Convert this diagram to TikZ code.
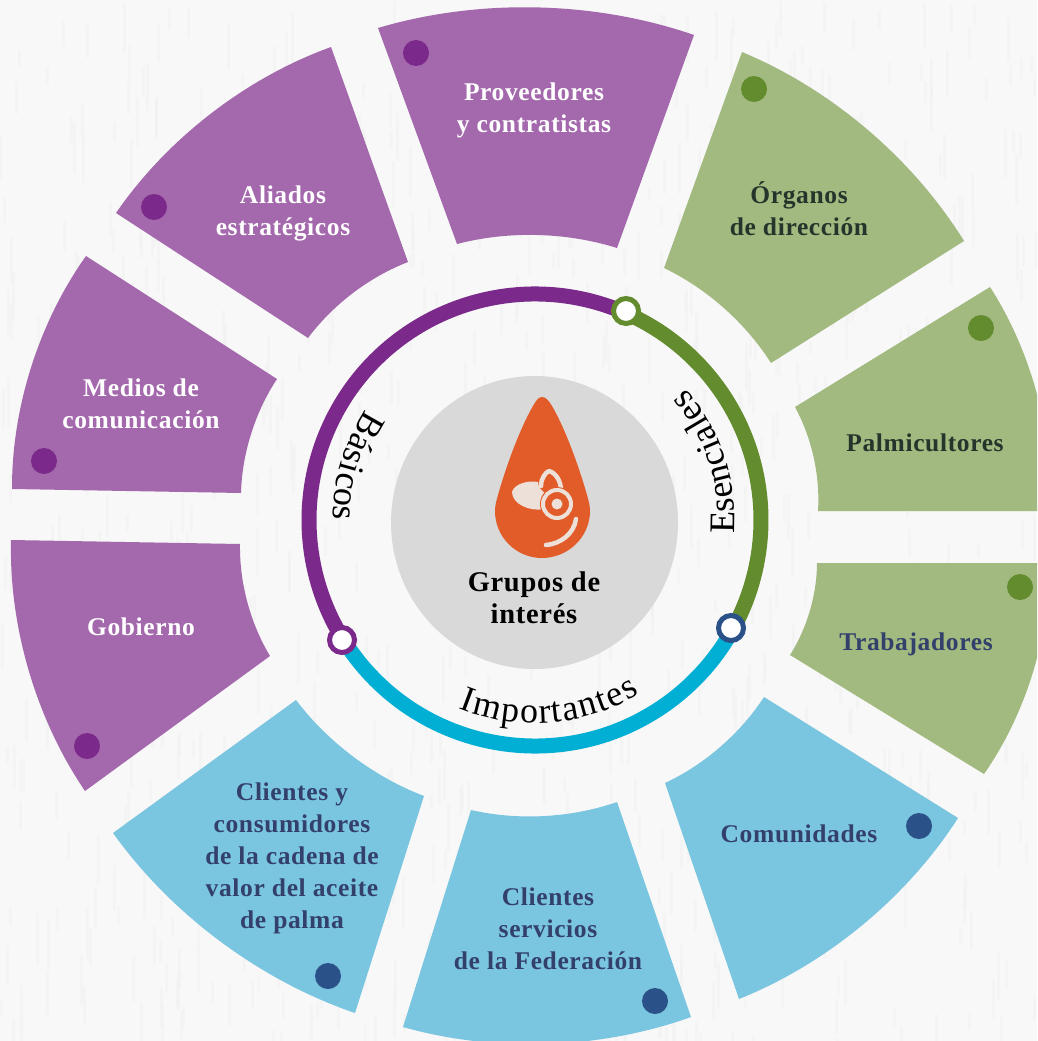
\documentclass[tikz,border=0pt]{standalone}
\usepackage{fontspec}
\setmainfont{Liberation Serif}[LetterSpace=2.5]
\newfontfamily\ringfont{Liberation Serif}
\usetikzlibrary{decorations.text}
\definecolor{bgc}{HTML}{F8F8F8}
\definecolor{grain}{HTML}{F1F1F1}
\definecolor{pf}{HTML}{A468AD}
\definecolor{gf}{HTML}{A2BA80}
\definecolor{bf}{HTML}{7AC5DF}
\definecolor{pd}{HTML}{7B2A8B}
\definecolor{gd}{HTML}{638C2E}
\definecolor{cd}{HTML}{00AFD3}
\definecolor{nd}{HTML}{2B5288}
\definecolor{ntx}{HTML}{33406B}
\definecolor{gtx}{HTML}{26352B}
\definecolor{drop}{HTML}{E25C2A}
\definecolor{lite}{HTML}{EDE0D8}
\tikzset{
  x=1pt,y=-1pt,
  lab/.style={font=\fontsize{25.5}{32}\selectfont\bfseries,align=center,inner sep=0pt},
  dot/.style={circle,minimum size=26pt,inner sep=0pt},
  junction/.style={circle,fill=white,line width=5pt,minimum size=25pt,inner sep=0pt},
  outer/.style={bend left=17.8,looseness=.85},
  inner/.style={bend right=16,looseness=.85},
  ringarc/.style={line width=15pt},
  ringlab/.style={decorate,decoration={text along path,raise=0pt,text align={fit to path},
     text={|\fontsize{36}{36}\selectfont\ringfont|#1}}}
}
\newcommand{\seg}[5]{\fill[#1] #2 to[outer] #3 -- #4 to[inner] #5 -- cycle;}
\begin{document}
\begin{tikzpicture}
\useasboundingbox (0,0) rectangle (1037,1041);
\clip (0,0) rectangle (1037,1041);
\fill[bgc] (0,0) rectangle (1037,1041);
% paper grain
\pgfmathsetseed{7}
\foreach \i in {1,...,900}{
  \pgfmathsetmacro{\gx}{rnd*1037}
  \pgfmathsetmacro{\gy}{rnd*1041}
  \pgfmathsetmacro{\gl}{10+rnd*40}
  \draw[grain,line width=3pt,line cap=round,opacity=.45] (\gx,\gy) -- ++(0,\gl);
}
% segments
\seg{pf}{(378,28)}{(694,35)}{(617,248)}{(457,244)}
\seg{gf}{(742,52)}{(964,241)}{(771,363)}{(664,268)}
\seg{gf}{(990,287)}{(1050,511)}{(818,511)}{(795,407)}
\seg{gf}{(1049,563)}{(984,774)}{(790,655)}{(817,563)}
\seg{bf}{(958,818)}{(739,999)}{(665,783)}{(764,697)}
\seg{bf}{(691,1017)}{(403,1027)}{(471,810)}{(617,802)}
\seg{bf}{(355,1013)}{(113,833)}{(296,700)}{(424,796)}
\seg{pf}{(85,791)}{(11,540)}{(240,544)}{(270,656)}
\seg{pf}{(12,489)}{(86,256)}{(277,379)}{(241,493)}
\seg{pf}{(116,213)}{(331,47)}{(408,262)}{(308,338)}
% dots
\node[dot,fill=pd] (d1) at (416,53) {};
\node[dot,fill=pd] (d2) at (154,207) {};
\node[dot,fill=pd] (d3) at (44,461) {};
\node[dot,fill=pd] (d4) at (87,746) {};
\node[dot,fill=gd] (d5) at (754,89) {};
\node[dot,fill=gd] (d6) at (981,328) {};
\node[dot,fill=gd] (d7) at (1020,587) {};
\node[dot,fill=nd] (d8) at (919,826) {};
\node[dot,fill=nd] (d9) at (655,1001) {};
\node[dot,fill=nd] (d10) at (328,976) {};
% segment labels
\node[lab,text=white] (t1) at (534,110) {Proveedores\\y contratistas};
\node[lab,text=white] (t2) at (283,213) {Aliados\\estratégicos};
\node[lab,text=white] (t3) at (141,404) {Medios de\\comunicación};
\node[lab,text=white] (t4) at (141,627) {Gobierno};
\node[lab,text=gtx] (t5) at (799,209) {Órganos\\de dirección};
\node[lab,text=gtx] (t6) at (925,443) {Palmicultores};
\node[lab,text=ntx] (t7) at (916,644) {Trabajadores};
\node[lab,text=ntx] (t8) at (799,834) {Comunidades};
\node[lab,text=ntx] (t9) at (548,929) {Clientes\\servicios\\de la Federación};
\node[lab,text=ntx] (t10) at (292,858) {Clientes y\\consumidores\\de la cadena de\\valor del aceite\\de palma};
% centre disc
\fill[black!15] (534.5,522.5) ellipse[x radius=143.5,y radius=146.5];
% drop icon
\fill[drop] (542,397) .. controls (546,397) and (549,401) .. (552,406)
  .. controls (566,430) and (580,470) .. (587,495)
  .. controls (589,502) and (590,506) .. (590,511)
  .. controls (590,537) and (568,558) .. (542,558)
  .. controls (516,558) and (495,537) .. (495,511)
  .. controls (495,506) and (496,502) .. (498,495)
  .. controls (505,470) and (519,430) .. (533,406)
  .. controls (536,401) and (538,397) .. (542,397) -- cycle;
\fill[lite] (512,492) .. controls (514,484) and (528,480) .. (538,482)
  .. controls (538,487) and (541,490) .. (546,494)
  .. controls (544,500) and (543,505) .. (544,509)
  .. controls (530,512) and (512,504) .. (512,492) -- cycle;
\draw[lite,line width=4.5pt,line cap=round,line join=round] (541,486) .. controls (541,478) and (546,472) .. (549,471)
  .. controls (556,473) and (561,481) .. (561,491);
\fill[drop] (557,504) circle[radius=17];
\draw[lite,line width=4pt] (557,504) circle[radius=14];
\fill[lite] (557,504) circle[radius=5.5];
\draw[lite,line width=4.5pt,line cap=round] (546,545) .. controls (560,544) and (574,534) .. (576,519);
\node[font=\fontsize{28.5}{32}\selectfont\bfseries,align=center,inner sep=0pt,text=black] (centre) at (534,598) {Grupos de\\interés};
% ring
\begin{scope}[shift={(535,520)},x=1pt,y=1pt]
  \draw[ringarc,pd] (66.5:226) arc[start angle=66.5,end angle=211.9,radius=226];
  \draw[ringarc,gd] (66.5:226) arc[start angle=66.5,end angle=-28.9,radius=226];
  \draw[ringarc,cd] (211.9:226) arc[start angle=211.9,end angle=331.1,radius=226];
  \path[ringlab={Básicos}] (147:202) arc[start angle=147,end angle=180,radius=202];
  \path[ringlab={Esenciales}] (-4:200) arc[start angle=-4,end angle=41,radius=200];
  \path[ringlab={Importantes}] (248:203) arc[start angle=248,end angle=301,radius=203];
\end{scope}
\node[junction,draw=gd] (j1) at (626,311) {};
\node[junction,draw=nd] (j2) at (731,628) {};
\node[junction,draw=pd] (j3) at (342,640) {};
\end{tikzpicture}
\end{document}
